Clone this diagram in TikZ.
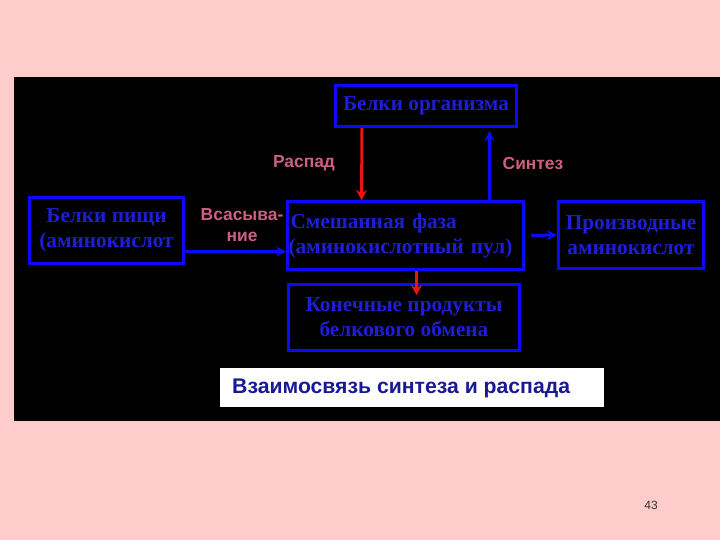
\documentclass[tikz,border=0pt]{standalone}
\usepackage{fontspec}
\setmainfont{Liberation Serif}
\setsansfont{Liberation Sans}
\usetikzlibrary{arrows.meta}
\definecolor{bgpink}{RGB}{255,204,204}
\definecolor{boxblue}{RGB}{10,10,255}
\definecolor{txtblue}{RGB}{30,30,215}
\definecolor{lblpink}{RGB}{205,95,130}
\definecolor{titleblue}{RGB}{25,25,150}
\definecolor{arrred}{RGB}{235,20,20}
\tikzset{
  bx/.style={draw=boxblue, line width=3pt, fill=black, text=txtblue,
    font=\bfseries\fontsize{21.3}{25}\selectfont, align=center, inner sep=0pt, anchor=north west},
  lbl/.style={text=lblpink, font=\sffamily\bfseries\fontsize{17.4}{21}\selectfont, inner sep=0pt},
  barr/.style={draw=boxblue, line width=3pt, -{Stealth[length=10pt,width=10pt]}},
  rarr/.style={draw=arrred, line width=3pt, -{Stealth[length=10pt,width=11pt]}}
}
\begin{document}
\begin{tikzpicture}[x=1pt,y=-1pt]
\fill[bgpink] (0,0) rectangle (720,540);
\useasboundingbox (0,0) rectangle (720,540);
\fill[black] (14,77) rectangle (720,421);
% boxes
\node[bx, minimum width=181, minimum height=41] (org) at (334,84) {Белки организма};
\node[bx, minimum width=154, minimum height=66] (food) at (28,196) {Белки пищи\\(аминокислот};
\node[bx, minimum width=236, minimum height=68, align=left, text width=234] (mix) at (286,200) {\hspace*{2pt}Смешанная фаза\\(аминокислотный пул)};
\node[bx, minimum width=145, minimum height=67] (deriv) at (557,200) {Производные\\аминокислот};
\node[bx, minimum width=231, minimum height=66] (end) at (287,283) {Конечные продукты\\белкового обмена};
\node[fill=white, minimum width=384, minimum height=39, inner sep=0pt, anchor=north west] (title) at (220,368) {};
\node[anchor=west, inner sep=0pt, text=titleblue, font=\sffamily\bfseries\fontsize{21.2}{22}\selectfont] (ttext) at (232,388) {Взаимосвязь синтеза и распада};
% arrows
\coordinate (r1s) at ([xshift=-64pt]org.south);
\coordinate (r1e) at ([xshift=-44pt]mix.north);
\draw[rarr] (r1s) -- (r1e);
\coordinate (b1s) at ([xshift=84pt]mix.north);
\coordinate (b1e) at ([xshift=63.5pt]org.south);
\draw[barr] (b1s) -- ([yshift=-3pt]b1e);
\draw[rarr] ([xshift=11pt]mix.south) -- ([xshift=12.5pt,yshift=-12pt]end.north);
\draw[barr] ([yshift=-21pt]food.east) -- ([yshift=-16pt]mix.west);
\draw[barr] ([xshift=6pt]mix.east) -- (deriv.west);
% labels
\node[lbl] (raspad) at (304,163) {Распад};
\node[lbl] (sintez) at (533,164) {Синтез};
\node[lbl, align=center] (vsas) at (242,225) {Всасыва-\\ние};
\node[text=black!80, font=\sffamily\fontsize{12}{13}\selectfont] (pg) at (651,505) {43};
\end{tikzpicture}
\end{document}
